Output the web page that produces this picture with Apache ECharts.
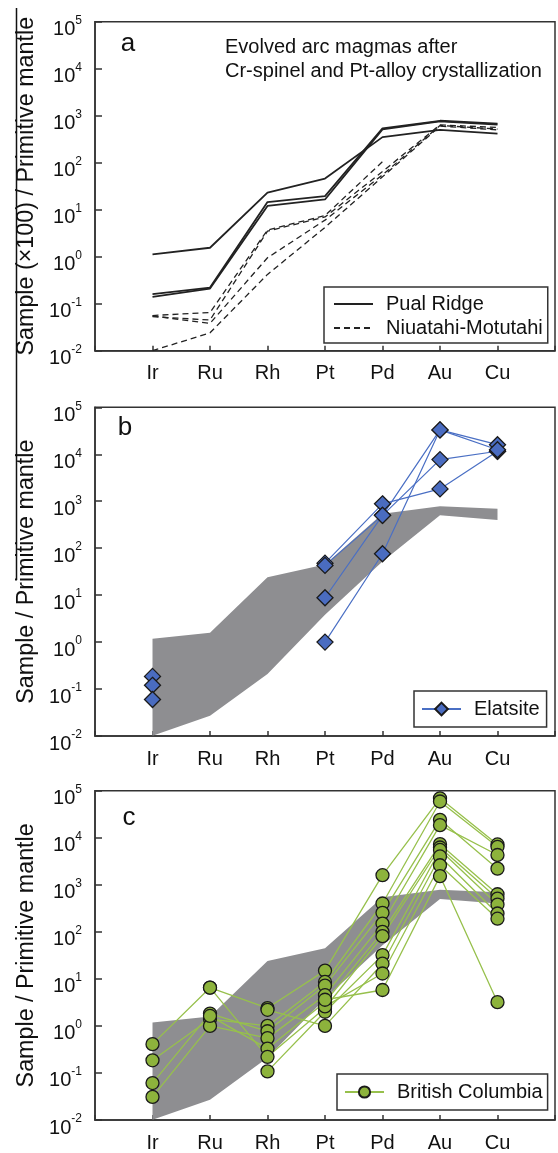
<!DOCTYPE html>
<html><head><meta charset="utf-8">
<script src="https://cdn.jsdelivr.net/npm/echarts@6/dist/echarts.min.js"></script>
<style>html,body{margin:0;padding:0;background:#fff}#c{width:558px;height:1153px}</style>
</head><body><div id="c"></div>
<script>
const elements = ['Ir','Ru','Rh','Pt','Pd','Au','Cu'];
const yTickExponents = [-2,-1,0,1,2,3,4,5];

// Panel a: Pual Ridge (solid)
const pualRidge1 = [1.12, 1.55, 23, 46, 350, 500, 415];
const pualRidge2 = [0.16, 0.22, 14.5, 19.5, 540, 780, 680];
const pualRidge3 = [0.14, 0.21, 12, 16.5, 510, 760, 650];
// Panel a: Niuatahi-Motutahi (dashed)
const niuatahi1 = [0.056, 0.065, 3.7, 7.5, 105, null, null];
const niuatahi2 = [0.053, 0.045, 3.5, 7.0, 65, 640, 560];
const niuatahi3 = [0.055, 0.038, 0.95, 6.0, 55, 620, 520];
const niuatahi4 = [0.010, 0.024, 0.42, 4.2, 50, 600, 500];

// Pual Ridge + Niuatahi envelope shown in b and c
const bandUpper = [1.18, 1.58, 24, 45, 540, 780, 690];
const bandLower = [0.0101, 0.027, 0.21, 3.8, 52, 500, 400];

// Panel b: Elatsite
const elatsite1 = [0.186, null, null, 48, 880, 1830, 11600];
const elatsite2 = [0.12, null, null, 43, 500, 7700, 11600];
const elatsite3 = [0.06, null, null, 8.8, 500, 33000, 16000];
const elatsite4 = [null, null, null, 1.0, 76, 33000, 12500];

// Panel c: British Columbia
const bc1 = [0.41, 6.5, 2.4, 15, 1600, 69000, 7200];
const bc2 = [0.186, 1.4, 1.0, 8.6, 400, 59000, 6400];
const bc3 = [0.061, 1.83, 0.77, 7.2, 254, 24000, 2200];
const bc4 = [0.031, 1.0, 0.55, 4.5, 150, 18500, 4300];
const bc5 = [null, 1.63, 0.33, 3.2, 100, 7300, 630];
const bc6 = [null, 6.5, 0.22, 2.4, 81, 6200, 510];
const bc7 = [null, null, 0.108, 2.0, 32, 5500, 380];
const bc8 = [null, null, 2.2, 1.0, 21, 4000, 245];
const bc9 = [null, null, null, 2.6, 13, 2600, 190];
const bc10 = [null, null, null, 3.6, 5.8, 1530, 3.2];

const chart = echarts.init(document.getElementById('c'), null, {renderer:'canvas'});
const AX = '#333';
const FONT = 'Liberation Sans, Arial';
const grids = [
  {left:95, top:21.7, width:462, height:329},
  {left:95, top:407.3, width:462, height:328.7},
  {left:95, top:790.7, width:462, height:329.3}
];
const yNames = ['Sample (\u00d7100) / Primitive mantle','Sample / Primitive mantle','Sample / Primitive mantle'];

function toPairs(row){ return row.map((v,i)=>[i+1, v==null?'-':v]); }

const xAxes = grids.map((g,k)=>({
  type:'value', gridIndex:k, min:0, max:8, interval:1,
  axisLine:{show:true, lineStyle:{color:AX, width:1.5}},
  axisTick:{show:true, inside:true, length:5, lineStyle:{color:AX, width:1.5}},
  splitLine:{show:false},
  axisLabel:{margin:13, fontSize:20, color:'#111', fontFamily:FONT,
    formatter:v=>elements[v-1]||''}
}));
const yAxes = grids.map((g,k)=>({
  type:'log', logBase:10, gridIndex:k, min:0.01, max:100000, interval:1,
  axisLine:{show:true, lineStyle:{color:AX, width:1.5}},
  axisTick:{show:true, inside:true, length:7, lineStyle:{color:AX, width:1.5}},
  minorTick:{show:false},
  splitLine:{show:false},
  axisLabel:{margin:13, padding:[16,0,0,0], fontFamily:FONT,
    formatter:v=>'{b|10}{s|'+Math.round(Math.log10(v))+'}',
    rich:{
      b:{fontSize:20, lineHeight:20, color:'#111', fontFamily:FONT, verticalAlign:'bottom'},
      s:{fontSize:12, lineHeight:12, color:'#111', fontFamily:FONT, verticalAlign:'bottom', padding:[0,0,13,0]}
    }},
  name:yNames[k], nameLocation:'middle', nameGap:46, nameRotate:90,
  nameTextStyle:{fontSize:23.3, color:'#111', fontFamily:FONT}
}));

const series = [];
function band(k){
  return {type:'custom', xAxisIndex:k, yAxisIndex:k, silent:true, z:1, clip:true,
    renderItem:(params, api)=>{
      const pts=[];
      bandUpper.forEach((v,i)=>pts.push(api.coord([i+1, v])));
      for(let i=bandLower.length-1;i>=0;i--) pts.push(api.coord([i+1, bandLower[i]]));
      return {type:'polygon', shape:{points:pts}, style:{fill:'#8e8e91'}};
    },
    data:[[1,1]]};
}
[pualRidge1,pualRidge2,pualRidge3].forEach(r=>series.push({
  type:'line', name:'Pual Ridge', xAxisIndex:0, yAxisIndex:0, data:toPairs(r),
  symbol:'none', lineStyle:{color:'#222', width:1.8}, itemStyle:{color:'#222'}, z:3}));
[niuatahi1,niuatahi2,niuatahi3,niuatahi4].forEach(r=>series.push({
  type:'line', name:'Niuatahi-Motutahi', xAxisIndex:0, yAxisIndex:0, data:toPairs(r),
  symbol:'none', lineStyle:{color:'#222', width:1.3, type:[6,4]}, itemStyle:{color:'#222'}, z:3}));
series.push(band(1));
[elatsite1,elatsite2,elatsite3,elatsite4].forEach(r=>series.push({
  type:'line', name:'Elatsite', xAxisIndex:1, yAxisIndex:1, data:toPairs(r),
  symbol:'diamond', symbolSize:16, showAllSymbol:true,
  lineStyle:{color:'#4a6fc4', width:1.2},
  itemStyle:{color:'#4a6cc0', borderColor:'#1a1a1a', borderWidth:1.3}, z:3}));
series.push(band(2));
[bc1,bc2,bc3,bc4,bc5,bc6,bc7,bc8,bc9,bc10].forEach(r=>series.push({
  type:'line', name:'British Columbia', xAxisIndex:2, yAxisIndex:2, data:toPairs(r),
  symbol:'circle', symbolSize:13, showAllSymbol:true,
  lineStyle:{color:'#97c04c', width:1.3},
  itemStyle:{color:'#8db33c', borderColor:'#1a1a1a', borderWidth:1.3}, z:3}));

const legendText = {fontSize:20, color:'#111', fontFamily:FONT, lineHeight:20, padding:[0,0,0,8]};
const legendBase = {orient:'vertical', backgroundColor:'#fff', borderColor:AX, borderWidth:1.5, borderRadius:0,
  itemWidth:39, itemHeight:14, itemGap:4, textStyle:legendText, selectedMode:false};

const option = {
  animation:false,
  grid:grids.map(g=>Object.assign({show:true, borderColor:AX, borderWidth:1.5, backgroundColor:'transparent'}, g)),
  xAxis:xAxes, yAxis:yAxes, series,
  legend:[
    Object.assign({}, legendBase, {left:324, top:287, padding:[7,5,5,9], itemStyle:{opacity:0},
      data:['Pual Ridge','Niuatahi-Motutahi']}),
    Object.assign({}, legendBase, {left:414, top:691, padding:[8,7,8,7], itemHeight:16, data:['Elatsite']}),
    Object.assign({}, legendBase, {left:337, top:1074, padding:[8,5,8,7], itemHeight:14, data:['British Columbia']})
  ],
  graphic:[
    {type:'line', shape:{x1:16.5, y1:8, x2:16.5, y2:580}, style:{stroke:'#111', lineWidth:1.5}},
    {type:'text', x:128, y:44, style:{text:'a', font:'26px "Liberation Sans", Arial', fill:'#111', textAlign:'center', textVerticalAlign:'middle'}},
    {type:'text', x:125, y:428, style:{text:'b', font:'26px "Liberation Sans", Arial', fill:'#111', textAlign:'center', textVerticalAlign:'middle'}},
    {type:'text', x:129, y:818, style:{text:'c', font:'26px "Liberation Sans", Arial', fill:'#111', textAlign:'center', textVerticalAlign:'middle'}},
    {type:'text', x:225, y:47, style:{text:'Evolved arc magmas after', font:'20px "Liberation Sans", Arial', fill:'#111', textAlign:'left', textVerticalAlign:'middle'}},
    {type:'text', x:225, y:71, style:{text:'Cr-spinel and Pt-alloy crystallization', font:'20px "Liberation Sans", Arial', fill:'#111', textAlign:'left', textVerticalAlign:'middle'}}
  ]
};
chart.setOption(option);
</script></body></html>
